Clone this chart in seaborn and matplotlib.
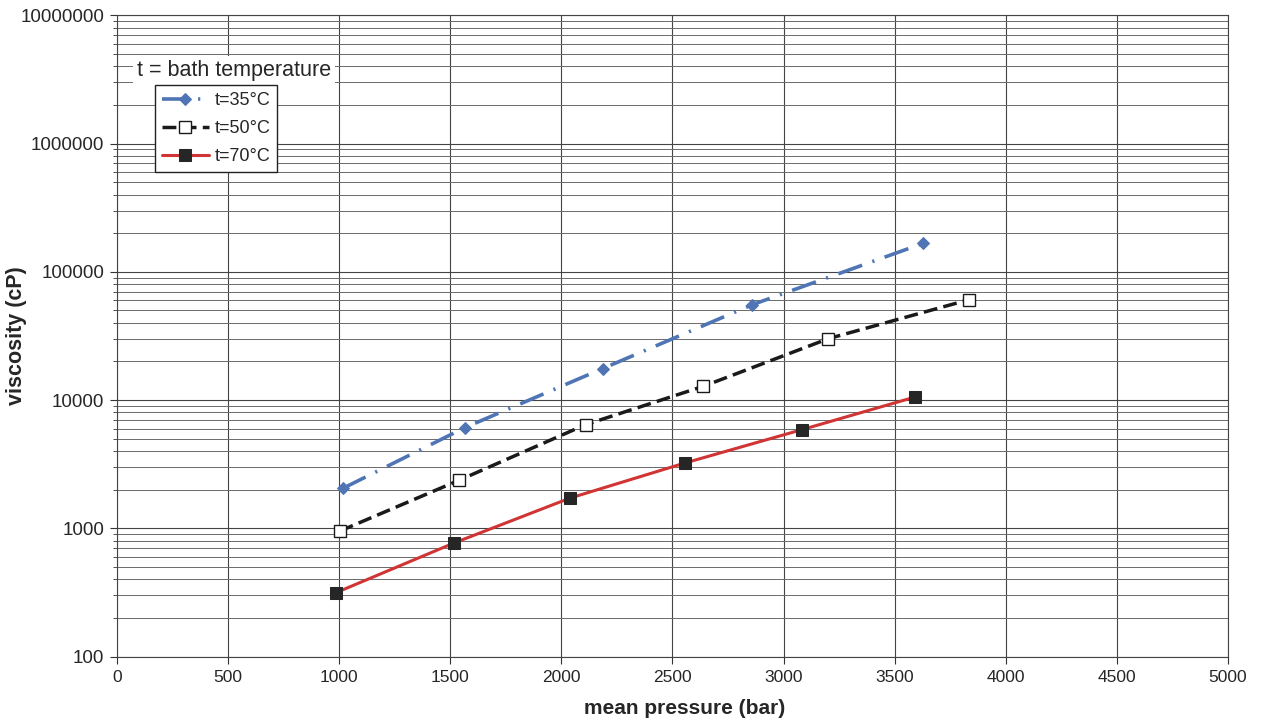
import pandas as pd
import matplotlib.pyplot as plt
import matplotlib.ticker as mticker
import seaborn as sns

# Plain white background, we draw the log grid ourselves
sns.set_style("white")
plt.rcParams['font.family'] = ['Liberation Sans', 'DejaVu Sans']

p_35 = [1017, 1566, 2186, 2859, 3629]
v_35 = [2050, 6100, 17600, 55400, 167000]

p_50 = [1004, 1540, 2109, 2639, 3201, 3834]
v_50 = [953, 2370, 6430, 12800, 30100, 60600]

p_70 = [986, 1517, 2039, 2556, 3083, 3591]
v_70 = [315, 768, 1720, 3230, 5880, 10550]

series_labels = ["t=35°C", "t=50°C", "t=70°C"]
x_ticks = [0, 500, 1000, 1500, 2000, 2500, 3000, 3500, 4000, 4500, 5000]
y_ticks = [100, 1000, 10000, 100000, 1000000, 10000000]

df35 = pd.DataFrame({"pressure": p_35, "viscosity": v_35})
df50 = pd.DataFrame({"pressure": p_50, "viscosity": v_50})
df70 = pd.DataFrame({"pressure": p_70, "viscosity": v_70})

fig = plt.figure(figsize=(12.62, 7.22), dpi=100)
ax = fig.add_axes([0.0927, 0.0907, 0.8803, 0.888])

sns.lineplot(data=df35, x="pressure", y="viscosity", ax=ax, color="#5075B4",
             linewidth=2.6, marker="D", markersize=6.5,
             markeredgecolor="#5075B4", label=series_labels[0], sort=False)
ax.lines[-1].set_dashes((7, 3, 0.6, 3))

sns.lineplot(data=df50, x="pressure", y="viscosity", ax=ax, color="#1a1a1a",
             linewidth=2.5, marker="s", markersize=8, markerfacecolor="white",
             markeredgecolor="#1a1a1a", markeredgewidth=1.0,
             label=series_labels[1], sort=False)
ax.lines[-1].set_dashes((4, 1.8))

sns.lineplot(data=df70, x="pressure", y="viscosity", ax=ax, color="#D03434",
             linewidth=2.2, marker="s", markersize=8, markerfacecolor="#262626",
             markeredgecolor="#262626", label=series_labels[2], sort=False)

ax.set_yscale("log")
ax.set_xlim(0, 5000)
ax.set_ylim(100, 10000000)

ax.xaxis.set_major_locator(mticker.FixedLocator(x_ticks))
ax.yaxis.set_major_locator(mticker.FixedLocator(y_ticks))
ax.yaxis.set_minor_locator(mticker.LogLocator(base=10, subs=range(2, 10)))
ax.yaxis.set_major_formatter(mticker.FuncFormatter(lambda v, _: f"{int(round(v))}"))
ax.yaxis.set_minor_formatter(mticker.NullFormatter())

ax.grid(True, which="major", axis="both", color="#444444", linewidth=0.8)
ax.grid(True, which="minor", axis="y", color="#6a6a6a", linewidth=0.7)
ax.set_axisbelow(True)

ax.tick_params(axis="both", which="major", direction="out", length=5, width=0.8,
               color="#333333", pad=4, left=True, bottom=True)
ax.tick_params(axis="y", which="major", labelsize=13.5)
ax.tick_params(axis="x", which="major", labelsize=12.5, pad=5)
ax.tick_params(axis="y", which="minor", direction="out", length=3, width=0.6,
               color="#333333", left=True)

for side in ["top", "right", "left", "bottom"]:
    ax.spines[side].set_color("#444444")
    ax.spines[side].set_linewidth(0.8)

ax.set_xlabel("mean pressure (bar)", fontsize=15, fontweight="bold")
ax.set_ylabel("viscosity (cP)", fontsize=15.5, fontweight="bold")
ax.xaxis.set_label_coords(0.511, -0.066)
ax.yaxis.set_label_coords(-0.081, 0.50)

leg = ax.legend(loc="upper left", bbox_to_anchor=(0.034, 0.892), fontsize=13,
                frameon=True, fancybox=False, handlelength=2.6, handletextpad=0.3,
                borderpad=0.4, labelspacing=0.62, borderaxespad=0)
leg.get_frame().set_edgecolor("#222222")
leg.get_frame().set_linewidth(1.0)
leg.get_frame().set_alpha(1)

# Legend title sits above the box, on a white patch over the grid
ax.text(0.018, 0.914, "t = bath temperature", transform=ax.transAxes,
        fontsize=15.5, va="center", ha="left", zorder=5,
        bbox=dict(facecolor="white", edgecolor="none", pad=3))

plt.savefig("out.png", dpi=100)
